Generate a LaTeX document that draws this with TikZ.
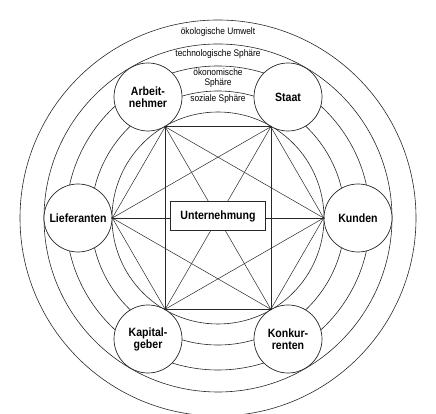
\documentclass[tikz,border=0pt]{standalone}
\usepackage{fontspec}
\setmainfont{Liberation Sans}[FakeStretch=0.88]
\usepackage{tikz}
\usetikzlibrary{positioning, backgrounds}
\definecolor{inkgray}{RGB}{40, 40, 40}

\begin{document}
\begin{tikzpicture}[
        x=1pt, y=1pt,
        actor/.style={circle, draw=inkgray, fill=white, line width=0.7pt, minimum size=68pt, inner sep=0pt, align=center, font=\fontsize{12}{12}\selectfont\bfseries},
        firm/.style={rectangle, draw=inkgray, fill=white, line width=1pt, minimum width=95pt, minimum height=29pt, font=\fontsize{12}{12}\selectfont\bfseries},
        sphere/.style={draw=inkgray, line width=0.6pt},
        sphlabel/.style={inner sep=0pt, align=center, font=\fontsize{9.5}{9.5}\selectfont},
        link/.style={draw=inkgray, line width=0.5pt}
    ]
        \useasboundingbox (0,0) rectangle (436,414);
        \coordinate (c) at (218,196);

        % Nodes
        \node[firm] (firm) at (218,198) {Unternehmung};
        \node[actor] (lief) at (78,196) {Lieferanten};
        \node[actor] (kunden) at (358,196) {Kunden};
        \node[actor] (arbn) at (148,317) {Arbeit-\\nehmer};
        \node[actor] (staat) at (288,317) {Staat};
        \node[actor] (kapg) at (148,75) {Kapital-\\geber};
        \node[actor] (konk) at (288,75) {Konkur-\\renten};

        % Spheres
        \node[sphlabel] (oekol) at (218,382) {ökologische Umwelt};
        \node[sphlabel] (techn) at (218,360) {technologische Sphäre};
        \node[sphlabel] (oekon) at (218,336) {ökonomische\\Sphäre};
        \node[sphlabel] (sozial) at (218,315) {soziale Sphäre};

        \begin{scope}[on background layer]
            \foreach \r in {198, 174, 152, 127, 106}
                \draw[sphere] (c) circle (\r);

            % Edges
            \draw[link] (arbn.-60) -- (staat.240);
            \draw[link] (arbn.-60) -- (kapg.60);
            \draw[link] (arbn.-60) -- (konk.120);
            \draw[link] (arbn.-60) -- (lief.east);
            \draw[link] (arbn.-60) -- (kunden.west);
            \draw[link] (staat.240) -- (kapg.60);
            \draw[link] (staat.240) -- (konk.120);
            \draw[link] (staat.240) -- (lief.east);
            \draw[link] (staat.240) -- (kunden.west);
            \draw[link] (kapg.60) -- (konk.120);
            \draw[link] (kapg.60) -- (lief.east);
            \draw[link] (kapg.60) -- (kunden.west);
            \draw[link] (konk.120) -- (lief.east);
            \draw[link] (konk.120) -- (kunden.west);
            \draw[link] (lief.east) -- (kunden.west);
        \end{scope}

        % Junction dots
        \foreach \p in {arbn.-60, staat.240, kapg.60, konk.120, lief.east, kunden.west}
            \fill[inkgray] (\p) circle (1.2);

    \end{tikzpicture}
\end{document}
